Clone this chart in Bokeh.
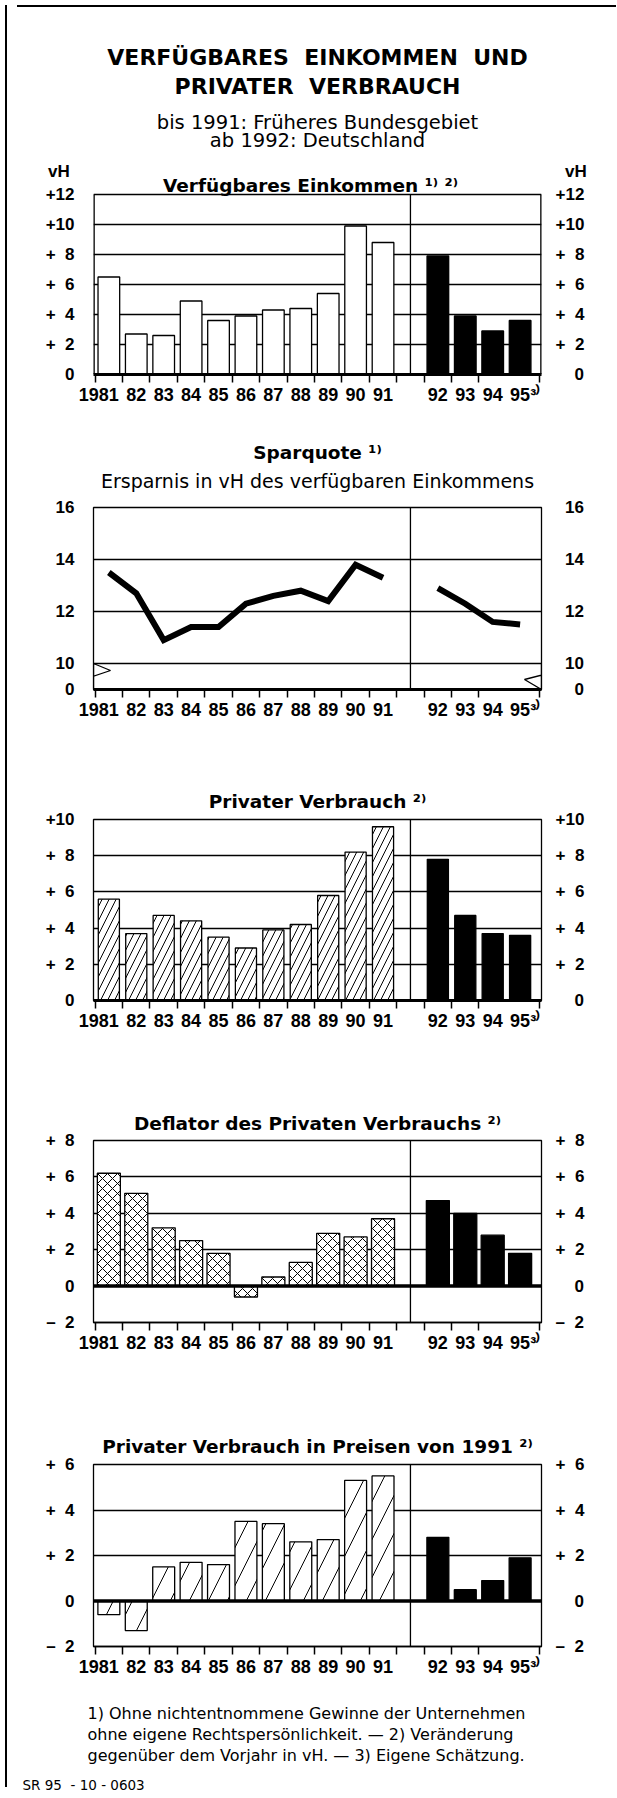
from bokeh.plotting import figure
from bokeh.models import Range1d, LinearAxis, FixedTicker, Span, PolyAnnotation, Title, Div
from bokeh.layouts import column, row
from bokeh.core.properties import value
from bokeh.embed import file_html
from bokeh.resources import INLINE

# ------------------------------------------------------------------ data
years = ["1981", "82", "83", "84", "85", "86", "87", "88", "89", "90", "91",
         "92", "93", "94", "95"]
einkommen = [6.5, 2.7, 2.6, 4.9, 3.6, 3.9, 4.3, 4.4, 5.4, 9.9, 8.8, 7.9, 3.9, 2.9, 3.6]
sparquote = [13.5, 12.7, 10.9, 11.4, 11.4, 12.3, 12.6, 12.8, 12.4, 13.8, 13.3,
             12.9, 12.3, 11.6, 11.5]
verbrauch = [5.6, 3.7, 4.7, 4.4, 3.5, 2.9, 3.9, 4.2, 5.8, 8.2, 9.6, 7.8, 4.7, 3.7, 3.6]
deflator = [6.2, 5.1, 3.2, 2.5, 1.8, -0.6, 0.5, 1.3, 2.9, 2.7, 3.7, 4.7, 4.0, 2.8, 1.8]
verbrauch_1991 = [-0.6, -1.3, 1.5, 1.7, 1.6, 3.5, 3.4, 2.6, 2.7, 5.3, 5.5, 2.8, 0.5, 0.9, 1.9]

ticks_einkommen = [0, 2, 4, 6, 8, 10, 12]
labels_einkommen = ["0", "+ 2", "+ 4", "+ 6", "+ 8", "+10", "+12"]
ticks_spar = [9, 10, 12, 14, 16]          # 9 = broken-axis base, shown as 0
labels_spar = ["0", "10", "12", "14", "16"]
ticks_verbrauch = [0, 2, 4, 6, 8, 10]
labels_verbrauch = ["0", "+ 2", "+ 4", "+ 6", "+ 8", "+10"]
ticks_deflator = [-2, 0, 2, 4, 6, 8]
labels_deflator = ["\u2013 2", "0", "+ 2", "+ 4", "+ 6", "+ 8"]
ticks_1991 = [-2, 0, 2, 4, 6]
labels_1991 = ["\u2013 2", "0", "+ 2", "+ 4", "+ 6"]

header_lines = ["VERFÜGBARES\u00a0\u00a0EINKOMMEN\u00a0\u00a0UND", "PRIVATER\u00a0\u00a0VERBRAUCH"]
sub_lines = ["bis 1991: Früheres Bundesgebiet", "ab 1992: Deutschland"]
footnotes = ["1) Ohne nichtentnommene Gewinne der Unternehmen",
             "ohne eigene Rechtspersönlichkeit. \u2014 2) Veränderung",
             "gegenüber dem Vorjahr in vH. \u2014 3) Eigene Schätzung."]
source = "SR 95\u00a0\u00a0- 10 - 0603"

# slot positions: 1981..91, gap, 92..95
slots = [i if i < 11 else i + 1 for i in range(len(years))]
N_WEST = 11

# ------------------------------------------------------------------ geometry (page px, body margin 8)
CX = 10                          # content left edge (after border line)
CW = 599                         # content width
PX_L, PX_R = 91, 539             # frame left/right
X0, X1 = -0.56, 15.78
FS = "\u2007"                    # figure space


def fmt(s):
    s = s.replace(" ", FS)
    return FS * max(0, 3 - len(s)) + s


def gx(px):
    return X0 + (px - PX_L) / (PX_R - PX_L) * (X1 - X0)


def style_title(t, text, size, style, standoff, align="center", offset=0):
    t.text = text
    t.align = align
    t.offset = offset
    t.text_font = "DejaVu Sans"
    t.text_font_style = style
    t.text_font_size = f"{size}px"
    t.text_color = "black"
    t.standoff = standoff


def gap_title(p, side, standoff):
    t = Title()
    style_title(t, "\u00a0", 1, "normal", standoff)
    p.add_layout(t, side)


def make(fig_top, fig_bot, ft, fb, yr, ticks, labels, grid, title, standoff, axis_w,
         outline=True, extra=None):
    p = figure(width=CW, height=fig_bot - fig_top,
               x_range=Range1d(X0, X1), y_range=Range1d(*yr),
               output_backend="svg", toolbar_location=None,
               min_border_left=PX_L - CX, min_border_right=CX + CW - PX_R,
               min_border_top=ft - fig_top, min_border_bottom=fig_bot - fb,
               background_fill_color="white", border_fill_color="white",
               outline_line_color="black" if outline else None, outline_line_width=1.3)
    if title:
        style_title(p.title, title, 18.5, "bold", standoff)
    else:
        p.title.text = ""

    # x axis
    xa = p.xaxis[0]
    minor = [k - 0.5 for k in range(0, 15)] + [15.72]
    xa.ticker = FixedTicker(ticks=slots, minor_ticks=minor)
    xl = [years[0] + FS * 2] + years[1:-1] + [FS + years[-1] + "\u00b3\u207e"]
    xa.major_label_overrides = dict(zip(slots, xl))
    xa.major_tick_out = 0
    xa.major_tick_in = 0
    xa.minor_tick_out = 8
    xa.minor_tick_in = 0
    xa.minor_tick_line_color = "black"
    xa.minor_tick_line_width = 1.5
    xa.axis_line_color = "black"
    xa.axis_line_width = axis_w
    xa.major_label_standoff = 2
    xa.major_label_text_font = "Liberation Sans"
    xa.major_label_text_font_style = "bold"
    xa.major_label_text_font_size = "18px"
    xa.major_label_text_color = "black"

    # y axes
    ya = p.yaxis[0]
    ra = LinearAxis()
    p.add_layout(ra, "right")
    for i, (ax, so) in enumerate(((ya, 19), (ra, 14))):
        t = list(ticks)
        ov = dict(zip(ticks, [fmt(l) for l in labels]))
        if extra:
            t.append(extra[0])
            ov[extra[0]] = extra[1 + i]
        ax.ticker = FixedTicker(ticks=t)
        ax.major_label_overrides = ov
        ax.major_tick_out = 0
        ax.major_tick_in = 0
        ax.minor_tick_out = 0
        ax.minor_tick_in = 0
        ax.axis_line_color = None
        ax.major_label_standoff = so
        ax.major_label_text_font = "Liberation Sans"
        ax.major_label_text_font_style = "bold"
        ax.major_label_text_font_size = "17px"
        ax.major_label_text_color = "black"

    p.xgrid[0].visible = False
    p.ygrid[0].ticker = FixedTicker(ticks=grid)
    p.ygrid[0].grid_line_color = "black"
    p.ygrid[0].grid_line_width = 1.3
    if outline:
        p.add_layout(Span(location=11, dimension="height", line_color="black", line_width=1.3))
    return p


def bars(p, vals, width, hatch=None, scale=10):
    kw = {}
    if hatch:
        kw = dict(hatch_pattern=hatch, hatch_color="black", hatch_scale=scale, hatch_weight=1)
    p.vbar(x=slots[:N_WEST], top=vals[:N_WEST], bottom=0, width=width,
           fill_color="white", line_color="black", line_width=1.3, **kw)
    p.vbar(x=slots[N_WEST:], top=vals[N_WEST:], bottom=0, width=width,
           fill_color="black", line_color="black", line_width=1.3)


# ------------------------------------------------------------------ chart 1 (with header inside its frame)
PPU1 = 15.0                       # px per unit
Y1TOP = (372 - 10) / PPU1         # frame reaches up to the page top border


def gy1(py):
    return (372 - py) / PPU1


VH_Y = gy1(169)
p1 = make(10, 428, 10, 372, (0, Y1TOP), ticks_einkommen, labels_einkommen,
          [2, 4, 6, 8, 10, 12], None, 0, 3, outline=False,
          extra=(VH_Y, "vH\u00a0", FS + "vH"))
bars(p1, einkommen, 0.79)
p1.segment(x0=[X0, X1], y0=[0, 0], x1=[X0, X1], y1=[12, 12], line_color="black", line_width=2.6)
p1.segment(x0=[11], y0=[0], x1=[11], y1=[12], line_color="black", line_width=1.3)


def ptext(p, s, x, y, size, style, font="DejaVu Sans", align="center"):
    p.text(x=[x], y=[y], text=[s], text_align=align, text_baseline="alphabetic",
           text_font=value(font), text_font_size=value(f"{size}px"),
           text_font_style=style, text_color="black")


ptext(p1, header_lines[0], gx(315), gy1(55.4), 22, "bold")
ptext(p1, header_lines[1], gx(315), gy1(84), 22, "bold")
ptext(p1, sub_lines[0], gx(315), gy1(119.5), 19.5, "normal")
ptext(p1, sub_lines[1], gx(315), gy1(137.5), 19.5, "normal")
ptext(p1, "Verfügbares Einkommen \u00b9\u207e \u00b2\u207e", gx(308), gy1(182.7), 18.5, "bold")

# ------------------------------------------------------------------ chart 2
p2 = make(428, 760, 505, 687, (9, 16), ticks_spar, labels_spar,
          [10, 12, 14], None, 0, 3)
gap_title(p2, "above", 12.5)
sub = Title()
style_title(sub, "Ersparnis in vH des verfügbaren Einkommens", 19, "normal", 0)
p2.add_layout(sub, "above")
main2 = Title()
style_title(main2, "Sparquote \u00b9\u207e", 18.5, "bold", 9)
p2.add_layout(main2, "above")
p2.line(slots[:N_WEST], sparquote[:N_WEST], line_width=6, line_color="black", line_join="miter")
p2.line(slots[N_WEST:], sparquote[N_WEST:], line_width=6, line_color="black", line_join="miter")


def gy2(py):
    return 16 - (py - 505) / (687 - 505) * 7


for pts in ([(91, 661), (108, 668), (78, 678), (91, 687)],
            [(539, 661), (553, 669), (522, 677), (539, 687)]):
    p2.add_layout(PolyAnnotation(xs=[gx(a) for a, b in pts], ys=[gy2(b) for a, b in pts],
                                 fill_color=None, fill_alpha=0, line_color="black",
                                 line_alpha=1, line_width=1.3))

# ------------------------------------------------------------------ chart 3
p3 = make(760, 1076, 817, 998, (0, 10), ticks_verbrauch, labels_verbrauch,
          [2, 4, 6, 8], "Privater Verbrauch \u00b2\u207e", 16, 3)
bars(p3, verbrauch, 0.77, "/", 14)

# ------------------------------------------------------------------ chart 4
p4 = make(1076, 1400, 1138, 1320, (-2, 8), ticks_deflator, labels_deflator,
          [2, 4, 6], "Deflator des Privaten Verbrauchs \u00b2\u207e", 14, 1.3)
bars(p4, deflator, 0.84, "x", 10)
p4.add_layout(Span(location=0, dimension="width", line_color="black", line_width=3.5))

# ------------------------------------------------------------------ chart 5 (+ footnotes below)
p5 = make(1400, 1790, 1462, 1645, (-2, 6), ticks_1991, labels_1991,
          [2, 4], "Privater Verbrauch in Preisen von 1991 \u00b2\u207e", 16, 1.3)
bars(p5, verbrauch_1991, 0.8, "/", 38)
p5.add_layout(Span(location=0, dimension="width", line_color="black", line_width=3.5))
gap_title(p5, "below", 19)
for line in footnotes:
    t = Title()
    style_title(t, line, 16, "normal", 0, align="left", offset=-6)
    p5.add_layout(t, "below")
gap_title(p5, "below", 7)
src = Title()
style_title(src, source, 13.5, "normal", 0, align="left", offset=-71)
p5.add_layout(src, "below")

H = 1782
content = column(Div(width=CW, height=2, styles={"background-color": "black"}),
                 p1, p2, p3, p4, p5)
layout = row(Div(width=2, height=H, styles={"background-color": "black"}), content)
open("out.html", "w").write(file_html(layout, INLINE))
